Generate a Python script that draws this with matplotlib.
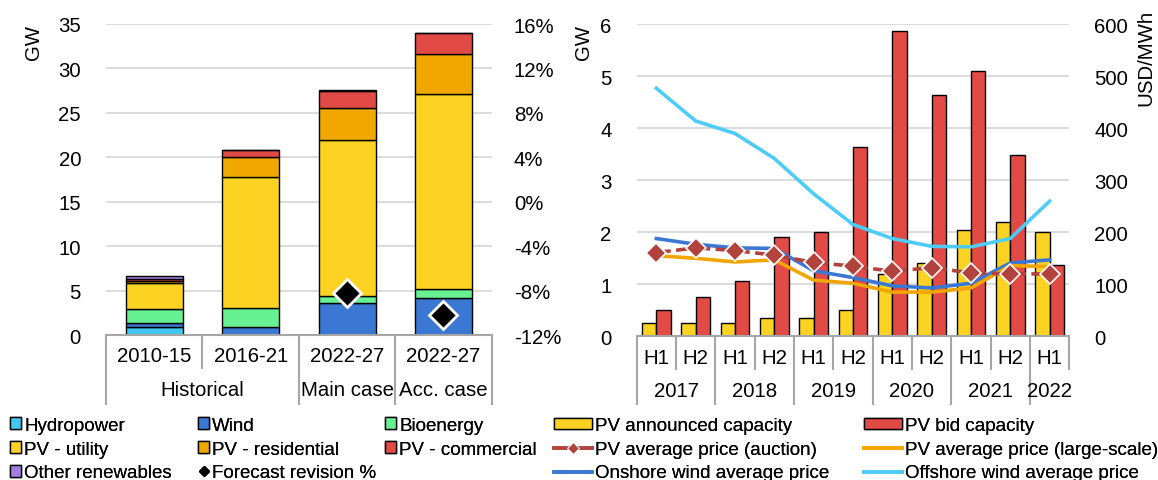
import matplotlib
matplotlib.use("Agg")
import matplotlib.pyplot as plt
from matplotlib.patches import Patch
from matplotlib.lines import Line2D
import numpy as np

plt.rcParams['font.family'] = ['Liberation Sans', 'DejaVu Sans']

# ---------------- Data: left chart ----------------
periods = ["2010-15", "2016-21", "2022-27", "2022-27"]
groups = ["Historical", "Main case", "Acc. case"]
hydro = [0.9, 0.0, 0.0, 0.0]
wind = [0.5, 0.9, 3.65, 4.2]
bio = [1.5, 2.1, 0.7, 1.0]
pv_utility = [2.9, 14.8, 17.65, 21.9]
pv_resid = [0.3, 2.2, 3.6, 4.5]
pv_comm = [0.25, 0.8, 1.9, 2.35]
other = [0.25, 0.05, 0.1, 0.05]
revision_pct = [np.nan, np.nan, -8.2, -10.2]

# ---------------- Data: right chart ----------------
halves = ["H1", "H2", "H1", "H2", "H1", "H2", "H1", "H2", "H1", "H2", "H1"]
years = ["2017", "2018", "2019", "2020", "2021", "2022"]
pv_announced = [0.25, 0.25, 0.25, 0.35, 0.35, 0.5, 1.2, 1.41, 2.05, 2.2, 2.0]
pv_bid = [0.5, 0.75, 1.07, 1.91, 2.0, 3.65, 5.87, 4.65, 5.1, 3.49, 1.38]
pv_auction_price = [161, 170, 165, 156, 142, 135, 125, 132, 122, 120, 120]
pv_large_price = [155, 150, 143, 147, 108, 102, 85, 85, 93, 136, 134]
onshore_price = [188, 177, 170, 169, 126, 113, 97, 93, 102, 141, 147]
offshore_price = [477, 414, 390, 342, 274, 215, 188, 173, 172, 188, 260]

# ---------------- Styles ----------------
C_HYDRO = "#41C8F2"
C_WIND = "#3B78D3"
C_BIO = "#66F091"
C_UTIL = "#FDD323"
C_RES = "#F0A800"
C_COMM = "#E24A45"
C_OTHER = "#A47DE0"
C_AUCT = "#B2423C"
C_LARGE = "#F2A500"
C_ON = "#3B78D3"
C_OFF = "#4DCCF7"
GRID = "#D9D9D9"
AXC = "#A6A6A6"
TICK_FS = 14.7
LEG_FS = 13.5

W, H = 1158, 481
fig = plt.figure(figsize=(W / 100, H / 100), dpi=100)


def fx(px):
    return px / W


def fy(py):
    return 1 - py / H


def style_axes(ax):
    for s in ax.spines.values():
        s.set_visible(False)
    ax.tick_params(axis='both', length=0, labelsize=TICK_FS)
    ax.set_xticks([])


# ---------------- Left chart ----------------
L0, L1, T0, B0 = 106, 491.7, 25.0, 336.0
axL = fig.add_axes([fx(L0), fy(B0), fx(L1 - L0), (B0 - T0) / H])
style_axes(axL)
x = np.arange(len(periods))
bw = 0.59
bottom = np.zeros(len(periods))
for vals, col in [(hydro, C_HYDRO), (wind, C_WIND), (bio, C_BIO), (pv_utility, C_UTIL),
                  (pv_resid, C_RES), (pv_comm, C_COMM), (other, C_OTHER)]:
    v = np.array(vals)
    axL.bar(x, v, bw, bottom=bottom, color=col, edgecolor="black", linewidth=1.0, zorder=3)
    bottom += v
axL.set_xlim(-0.5, len(periods) - 0.5)
axL.set_ylim(0, 35)
axL.set_yticks(np.arange(0, 36, 5))
axL.yaxis.grid(True, color=GRID, linewidth=1.3, zorder=0)
axL.set_axisbelow(True)
axL.tick_params(axis='y', pad=18)

axL2 = axL.twinx()
style_axes(axL2)
axL2.set_ylim(-12, 16)
axL2.set_yticks(np.arange(-12, 17, 4))
axL2.set_yticklabels([f"{v}%" for v in range(-12, 17, 4)])
axL2.tick_params(axis='y', pad=16)
axL2.plot(x, revision_pct, linestyle="none", marker="D", markersize=14,
          markerfacecolor="black", markeredgecolor="white", markeredgewidth=2.0, zorder=5)

# category axis (multi-level)
hL = B0 - T0
trL = axL.get_xaxis_transform()
r1 = -(369 - B0) / hL
r2 = -(405 - B0) / hL
axL.plot([-0.5, 3.5], [0, 0], color=AXC, lw=1.5, transform=trL, clip_on=False, zorder=4)
for sx, full in [(-0.5, True), (0.5, False), (1.5, True), (2.5, True), (3.5, True)]:
    axL.plot([sx, sx], [0, r2 if full else r1], color=AXC, lw=1.5, transform=trL, clip_on=False)
for i, p in enumerate(periods):
    axL.text(i, -(357 - B0) / hL, p, transform=trL, ha="center", va="center", fontsize=TICK_FS)
for cx, g in zip([0.5, 2, 3], groups):
    axL.text(cx, -(390 - B0) / hL, g, transform=trL, ha="center", va="center", fontsize=TICK_FS)
fig.text(fx(34), fy(42), "GW", rotation=90, ha="center", va="center", fontsize=TICK_FS)

# ---------------- Right chart ----------------
R0, R1, RT, RB = 636.7, 1069.3, 25.3, 337.3
axR = fig.add_axes([fx(R0), fy(RB), fx(R1 - R0), (RB - RT) / H])
style_axes(axR)
xr = np.arange(len(halves))
w2 = 0.365
axR.bar(xr - w2 / 2, pv_announced, w2, color=C_UTIL, edgecolor="black", linewidth=1.0, zorder=3)
axR.bar(xr + w2 / 2, pv_bid, w2, color=C_COMM, edgecolor="black", linewidth=1.0, zorder=3)
axR.set_xlim(-0.5, len(halves) - 0.5)
axR.set_ylim(0, 6)
axR.set_yticks(np.arange(0, 7, 1))
axR.yaxis.grid(True, color=GRID, linewidth=1.3, zorder=0)
axR.set_axisbelow(True)
axR.tick_params(axis='y', pad=18)

axR2 = axR.twinx()
style_axes(axR2)
axR2.set_ylim(0, 600)
axR2.set_yticks(np.arange(0, 601, 100))
axR2.tick_params(axis='y', pad=18)
axR2.plot(xr, offshore_price, color=C_OFF, lw=2.6, zorder=3)
axR2.plot(xr, onshore_price, color=C_ON, lw=2.6, zorder=3)
axR2.plot(xr, pv_large_price, color=C_LARGE, lw=2.6, zorder=3)
axR2.plot(xr, pv_auction_price, color=C_AUCT, lw=2.6, linestyle=(0, (4, 1.5)), marker="D",
          markersize=10, markerfacecolor=C_AUCT, markeredgecolor="white", markeredgewidth=1.2, zorder=4)

trR = axR.get_xaxis_transform()
hR = RB - RT
s1 = -(370 - RB) / hR
s2 = -(405 - RB) / hR
axR.plot([-0.5, 10.5], [0, 0], color=AXC, lw=1.5, transform=trR, clip_on=False, zorder=4)
seps = [(-0.5, True)] + [(i + 0.5, (i % 2 == 1) or i == 9) for i in range(11)]
for sx, full in seps:
    axR.plot([sx, sx], [0, s2 if full else s1], color=AXC, lw=1.5, transform=trR, clip_on=False)
for i, h in enumerate(halves):
    axR.text(i, -(359 - RB) / hR, h, transform=trR, ha="center", va="center", fontsize=TICK_FS)
for cx, yv in zip([0.5, 2.5, 4.5, 6.5, 8.5, 10], years):
    axR.text(cx, -(392 - RB) / hR, yv, transform=trR, ha="center", va="center", fontsize=TICK_FS)
fig.text(fx(583), fy(42), "GW", rotation=90, ha="center", va="center", fontsize=TICK_FS)
fig.text(fx(1146), fy(58), "USD/MWh", rotation=90, ha="center", va="center", fontsize=TICK_FS)

# ---------------- Legends ----------------
LEG_TOP = 418


def sq(c):
    return Patch(facecolor=c, edgecolor="black", linewidth=1.0)


leg_kw = dict(frameon=False, fontsize=LEG_FS, handlelength=0.6, handleheight=0.6,
              handletextpad=0.15, labelspacing=0.36, borderpad=0, borderaxespad=0, loc="upper left")
cols_left = [
    ([sq(C_HYDRO), sq(C_UTIL), sq(C_OTHER)], ["Hydropower", "PV - utility", "Other renewables"], 10),
    ([sq(C_WIND), sq(C_RES),
      Line2D([], [], linestyle="none", marker="D", markersize=5, color="black")],
     ["Wind", "PV - residential", "Forecast revision %"], 198),
    ([sq(C_BIO), sq(C_COMM)], ["Bioenergy", "PV - commercial"], 385),
]
for hs, ls, px in cols_left:
    lg = fig.legend(hs, ls, bbox_to_anchor=(fx(px), fy(LEG_TOP)), **leg_kw)
    fig.add_artist(lg)

leg_kw2 = dict(frameon=False, fontsize=LEG_FS, handlelength=2.0, handleheight=0.5,
               handletextpad=0.2, labelspacing=0.36, borderpad=0, borderaxespad=0, loc="upper left")
bar_h = lambda c: Patch(facecolor=c, edgecolor="black", linewidth=1.0)
cols_right = [
    ([bar_h(C_UTIL),
      Line2D([], [], color=C_AUCT, lw=2.6, marker="D", markersize=6, markeredgecolor="white",
             markeredgewidth=0.8),
      Line2D([], [], color=C_ON, lw=2.6)],
     ["PV announced capacity", "PV average price (auction)", "Onshore wind average price"], 554),
    ([bar_h(C_COMM), Line2D([], [], color=C_LARGE, lw=2.6), Line2D([], [], color=C_OFF, lw=2.6)],
     ["PV bid capacity", "PV average price (large-scale)", "Offshore wind average price"], 864),
]
for hs, ls, px in cols_right:
    lg = fig.legend(hs, ls, bbox_to_anchor=(fx(px), fy(LEG_TOP)), **leg_kw2)
    fig.add_artist(lg)

fig.savefig("out.png", dpi=100)
